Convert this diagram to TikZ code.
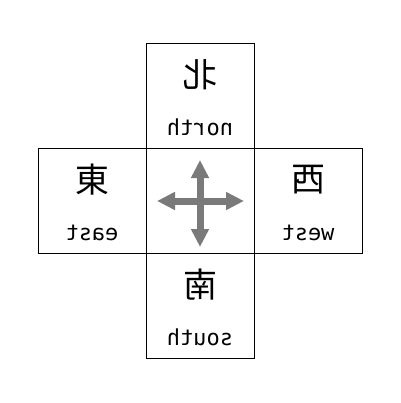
\documentclass[tikz,border=0pt]{standalone}
\usepackage{fontspec}
\usepackage{tikz}
\usetikzlibrary{positioning,arrows.meta}
\newfontfamily\kanjifont{Noto Sans CJK JP}
\newfontfamily\wordfont{DejaVu Sans Mono}
\definecolor{arrowgray}{RGB}{122,122,122}
\tikzstyle{cell}=[draw, line width=0.9pt, minimum width=108pt, minimum height=105pt, inner sep=0pt, outer sep=0pt]
\tikzstyle{kanji}=[xscale=-1, font=\kanjifont\fontsize{34}{38}\selectfont, inner sep=0pt]
\tikzstyle{word}=[xscale=-1, font=\wordfont\fontsize{22}{26}\selectfont, inner sep=0pt, anchor=base]
\tikzstyle{arrow}=[draw=arrowgray, line width=7pt, {Triangle[width=17pt,length=18pt]}-{Triangle[width=17pt,length=18pt]}]

\begin{document}
\begin{tikzpicture}[x=1pt,y=-1pt]
\useasboundingbox (0,0) rectangle (400,403);

\node (center) [cell] at (200,201) {};
\node (north) [cell, above=0pt of center] {};
\node (south) [cell, below=0pt of center] {};
\node (east) [cell, left=0pt of center] {};
\node (west) [cell, right=0pt of center] {};

\node (northkanji) [kanji] at ([yshift=-31pt]north.north) {北};
\node (northword) [word] at ([yshift=-92pt]north.north) {north};
\node (eastkanji) [kanji] at ([yshift=-31pt]east.north) {東};
\node (eastword) [word] at ([yshift=-92pt]east.north) {east};
\node (westkanji) [kanji] at ([yshift=-31pt]west.north) {西};
\node (westword) [word] at ([yshift=-92pt]west.north) {west};
\node (southkanji) [kanji] at ([yshift=-31pt]south.north) {南};
\node (southword) [word] at ([yshift=-92pt]south.north) {south};

\coordinate (arrowleft) at ([xshift=-43pt]center.center);
\coordinate (arrowright) at ([xshift=44pt]center.center);
\coordinate (arrowtop) at ([yshift=41pt]center.center);
\coordinate (arrowbottom) at ([yshift=-46pt]center.center);

\draw [arrow] (arrowleft) -- (arrowright);
\draw [arrow] (arrowtop) -- (arrowbottom);

\end{tikzpicture}
\end{document}
